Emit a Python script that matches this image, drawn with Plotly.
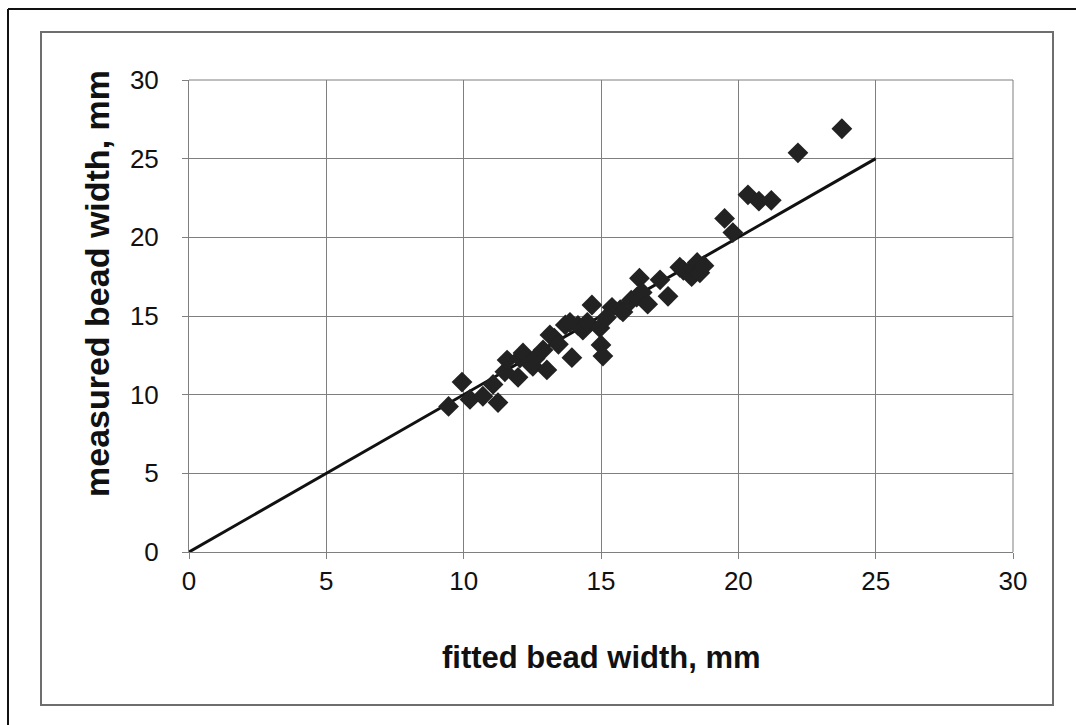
import plotly.graph_objects as go

# fitted vs measured bead width (mm)
fitted = [9.45, 9.94, 10.23, 10.70, 11.07, 11.25, 11.50, 11.58, 11.98, 12.05,
          12.16, 12.41, 12.52, 12.60, 12.89, 13.03, 13.14, 13.30, 13.45, 13.70,
          13.87, 13.94, 14.16, 14.34, 14.67, 14.50, 14.96, 15.00, 15.07, 15.20,
          15.40, 15.70, 15.80, 16.10, 16.30, 16.40, 16.50, 16.70, 17.15, 17.44,
          17.87, 18.00, 18.30, 18.35, 18.50, 18.60, 18.75, 19.50, 19.80, 20.35,
          20.75, 21.20, 22.17, 23.77]
measured = [9.25, 10.80, 9.70, 9.90, 10.65, 9.50, 11.45, 12.20, 11.10, 12.33,
            12.65, 12.00, 11.80, 12.30, 12.84, 11.57, 13.80, 13.60, 13.20, 14.43,
            14.60, 12.35, 14.40, 14.10, 15.70, 14.60, 14.24, 13.16, 12.45, 14.90,
            15.55, 15.40, 15.26, 16.00, 16.20, 17.40, 16.50, 15.75, 17.30, 16.25,
            18.10, 17.90, 17.50, 18.05, 18.40, 17.75, 18.20, 21.20, 20.30, 22.70,
            22.30, 22.35, 25.37, 26.90]

# reference line y = x
line_x = [0, 25]
line_y = [0, 25]

x_ticks = [0, 5, 10, 15, 20, 25, 30]
y_ticks = [0, 5, 10, 15, 20, 25, 30]

W, H = 1076, 725
L, R, T, B = 189, 63, 80, 173
pw, ph = W - L - R, H - T - B


def px(x):
    return (x - L) / pw


def py(y):
    return 1 - (y - T) / ph


fig = go.Figure()
fig.add_trace(go.Scatter(x=line_x, y=line_y, mode="lines",
                         line=dict(color="#111111", width=3), showlegend=False))
fig.add_trace(go.Scatter(x=fitted, y=measured, mode="markers",
                         marker=dict(symbol="diamond", size=16, color="#222222",
                                     line=dict(width=0)), showlegend=False))

font_family = "Liberation Sans, Arial, sans-serif"
axis_common = dict(
    range=[0, 30], tickmode="array", showgrid=True, gridcolor="#7f7f7f",
    gridwidth=1, zeroline=False, showline=True, linecolor="#7f7f7f",
    linewidth=1, ticks="outside", ticklen=6, tickcolor="#7f7f7f",
    tickfont=dict(family=font_family, size=26, color="#111111"),
)
fig.update_xaxes(tickvals=x_ticks, ticktext=[str(v) for v in x_ticks],
                 ticklabelstandoff=0, **axis_common)
fig.update_yaxes(tickvals=y_ticks, ticktext=[str(v) for v in y_ticks],
                 ticklabelstandoff=18, **axis_common)

shapes = [
    # chart area frame
    dict(type="rect", xref="paper", yref="paper", x0=px(41), x1=px(1053),
         y0=py(705), y1=py(32), line=dict(color="#6e6e6e", width=2),
         layer="below"),
    # page frame (left and top edges)
    dict(type="line", xref="paper", yref="paper", x0=px(8), x1=px(8),
         y0=py(725), y1=py(9), line=dict(color="#111111", width=2)),
    dict(type="line", xref="paper", yref="paper", x0=px(8), x1=px(1076),
         y0=py(9), y1=py(9), line=dict(color="#111111", width=2)),
    # top and right plot borders
    dict(type="line", xref="paper", yref="paper", x0=0, x1=1, y0=1, y1=1,
         line=dict(color="#7f7f7f", width=1)),
    dict(type="line", xref="paper", yref="paper", x0=1, x1=1, y0=0, y1=1,
         line=dict(color="#7f7f7f", width=1)),
]

annotations = [
    dict(text="<b>fitted bead width, mm</b>", xref="paper", yref="paper",
         x=px(601), y=py(657), xanchor="center", yanchor="middle",
         showarrow=False,
         font=dict(family=font_family, size=31, color="#111111")),
    dict(text="<b>measured bead width, mm</b>", xref="paper", yref="paper",
         x=px(97), y=py(284), xanchor="center", yanchor="middle",
         showarrow=False, textangle=-90,
         font=dict(family=font_family, size=34, color="#111111")),
]

fig.update_layout(
    width=W, height=H,
    margin=dict(l=L, r=R, t=T, b=B),
    paper_bgcolor="white", plot_bgcolor="white",
    shapes=shapes, annotations=annotations,
)

fig.write_html("out.html")
